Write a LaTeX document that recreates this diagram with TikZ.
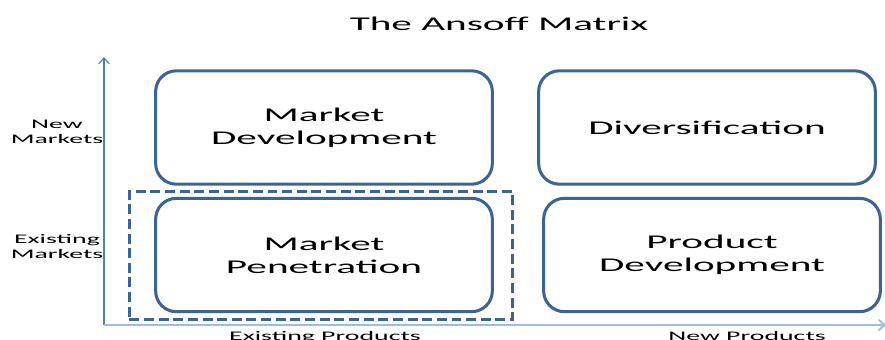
\documentclass[tikz,border=0pt]{standalone}
\usepackage{fontspec}
\setmainfont{Carlito}[FakeStretch=2.12]
\usepackage{tikz}
\usepackage{xcolor}
\usetikzlibrary{
    arrows.meta,
    positioning
}
\definecolor{QuadBlue}{RGB}{61,99,147}
\definecolor{AxisBlue}{RGB}{79,129,189}
\definecolor{AxisLight}{RGB}{160,188,222}
\tikzset{
  quad/.style    = {draw=QuadBlue, line width=2.6pt, rounded corners=0.62cm,
                    minimum width=10.1cm, minimum height=3.4cm, align=center,
                    font=\fontsize{16.6}{19.6}\selectfont},
  focus/.style   = {draw=QuadBlue, line width=2.6pt, dash pattern=on 8.5pt off 4pt,
                    minimum width=11.5cm, minimum height=3.85cm},
  lbl/.style     = {align=center, font=\fontsize{11.2}{12.8}\selectfont},
  yaxis/.style   = {-{Straight Barb[length=5pt,width=9pt]}, AxisBlue, line width=1pt},
  xaxis/.style   = {-{Straight Barb[length=5pt,width=9pt]}, AxisLight, line width=1.6pt}
}

\begin{document}
\begin{tikzpicture}[x=0.03cm, y=-0.03cm]
\useasboundingbox (0,0) rectangle (885,340);
% title
\node[font=\fontsize{16.6}{19.6}\selectfont, anchor=base] (title) at (499,30.7) {The Ansoff Matrix};
% axes
\coordinate (o) at (104,325);
\coordinate (ytip) at (104,57);
\coordinate (xtip) at (886,325);
\draw[yaxis] (o) -- (ytip);
\draw[xaxis] (o) -- (xtip);
% dashed frame round the current strategy
\node[focus] (mpfocus) at (321,255.5) {};
% the four quadrants
\node[quad] (md) at (324,127.5) {Market\\Development};
\node[quad] (div) at (707,127.5) {Diversification};
\node[quad] (mp) at (324,255) {Market\\Penetration};
\node[quad] (pd) at (712,255) {Product\\Development};
% axis labels
\node[lbl] (newm) at (57,132) {New\\Markets};
\node[lbl] (exm) at (57,247) {Existing\\Markets};
\node[lbl, anchor=north] (exp) at (325,327) {Existing Products};
\node[lbl, anchor=north] (newp) at (747,327) {New Products};
\end{tikzpicture}
\end{document}
